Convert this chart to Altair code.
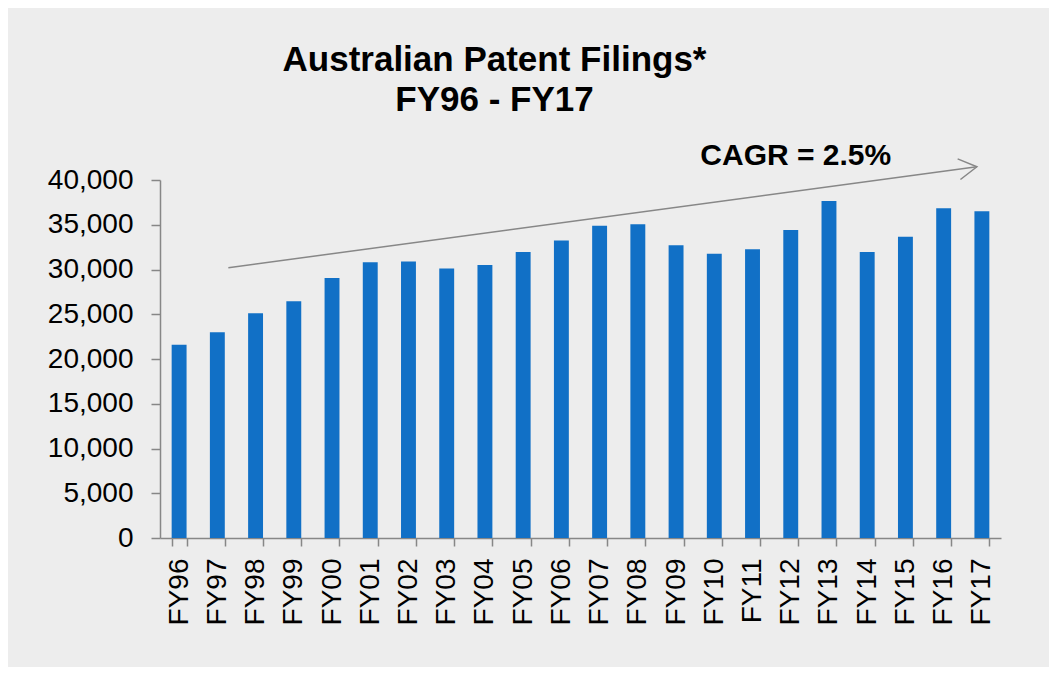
import altair as alt
import pandas as pd

years = ["FY96", "FY97", "FY98", "FY99", "FY00", "FY01", "FY02", "FY03", "FY04", "FY05", "FY06",
         "FY07", "FY08", "FY09", "FY10", "FY11", "FY12", "FY13", "FY14", "FY15", "FY16", "FY17"]
filings = [21600, 23000, 25100, 26450, 29050, 30800, 30900, 30100, 30500, 31950, 33250,
           34900, 35050, 32700, 31750, 32250, 34400, 37650, 31950, 33650, 36850, 36500]
y_ticks = [0, 5000, 10000, 15000, 20000, 25000, 30000, 35000, 40000]

# CAGR trend arrow (annotation) endpoints, in data terms
arrow_start = ["FY97"]
arrow_end = ["FY17"]
arrow_y_start = [30200]
arrow_y_end = [41480]
cagr_label = ["CAGR = 2.5%"]
cagr_at = ["FY12"]
cagr_y = [41700]

FONT = "Liberation Sans"
GRAY = "#878787"

bars_df = pd.DataFrame({"year": years, "filings": filings})
arrow_df = pd.DataFrame({"x": arrow_start, "x2": arrow_end, "y": arrow_y_start, "y2": arrow_y_end})
head_df = pd.DataFrame({"x": arrow_end, "y": arrow_y_end})
label_df = pd.DataFrame({"x": cagr_at, "y": cagr_y, "t": cagr_label})

x_scale = alt.Scale(domain=years, paddingInner=0.61, paddingOuter=0.305)
y_scale = alt.Scale(domain=[0, 40000], nice=False)

bars = alt.Chart(bars_df).mark_bar(color="#1170C6").encode(
    x=alt.X("year:N", sort=years, scale=x_scale, title=None,
            axis=alt.Axis(labelAngle=270, labelFont=FONT, labelFontSize=28, labelColor="black",
                          labelPadding=12, tickBand="extent", tickSize=8, tickColor=GRAY,
                          tickWidth=1.5, domainColor=GRAY, domainWidth=1.5, labelOverlap=False)),
    y=alt.Y("filings:Q", scale=y_scale, title=None,
            axis=alt.Axis(values=y_ticks, format=",.0f", grid=False, labelFont=FONT, labelFontSize=28,
                          labelColor="black", labelPadding=18, tickSize=9, tickColor=GRAY,
                          tickWidth=1.5, domainColor=GRAY, domainWidth=1.5)),
)

arrow = alt.Chart(arrow_df).mark_rule(color=GRAY, strokeWidth=1.5, xOffset=11, x2Offset=-5).encode(
    x=alt.X("x:N", sort=years, scale=x_scale),
    x2="x2:N",
    y=alt.Y("y:Q", scale=y_scale),
    y2="y2:Q",
)

head = alt.Chart(head_df).mark_point(
    shape="M-1,-0.58L0,0L-1,0.58", size=1296, filled=False, stroke=GRAY, strokeWidth=1.5,
    opacity=1, angle=352.3, xOffset=-5,
).encode(
    x=alt.X("x:N", sort=years, scale=x_scale),
    y=alt.Y("y:Q", scale=y_scale),
)

label = alt.Chart(label_df).mark_text(
    font=FONT, fontSize=30, fontWeight="bold", color="black", align="center",
    baseline="alphabetic", dx=5,
).encode(
    x=alt.X("x:N", sort=years, scale=x_scale),
    y=alt.Y("y:Q", scale=y_scale),
    text="t:N",
)

chart = alt.layer(bars, arrow, head, label).properties(
    width=841,
    height=358,
    background="#EDEDED",
    padding={"left": 152, "top": 172, "right": 48, "bottom": 129},
    autosize=alt.AutoSizeParams(type="none"),
    title=alt.Title(
        text=["Australian Patent Filings*", "FY96 - FY17"],
        font=FONT, fontSize=35, fontWeight="bold", color="black",
        anchor="middle", dx=-86, lineHeight=40, offset=23,
    ),
).configure_view(stroke=None)

chart.save("out.html", embed_options={"renderer": "svg", "actions": False})
